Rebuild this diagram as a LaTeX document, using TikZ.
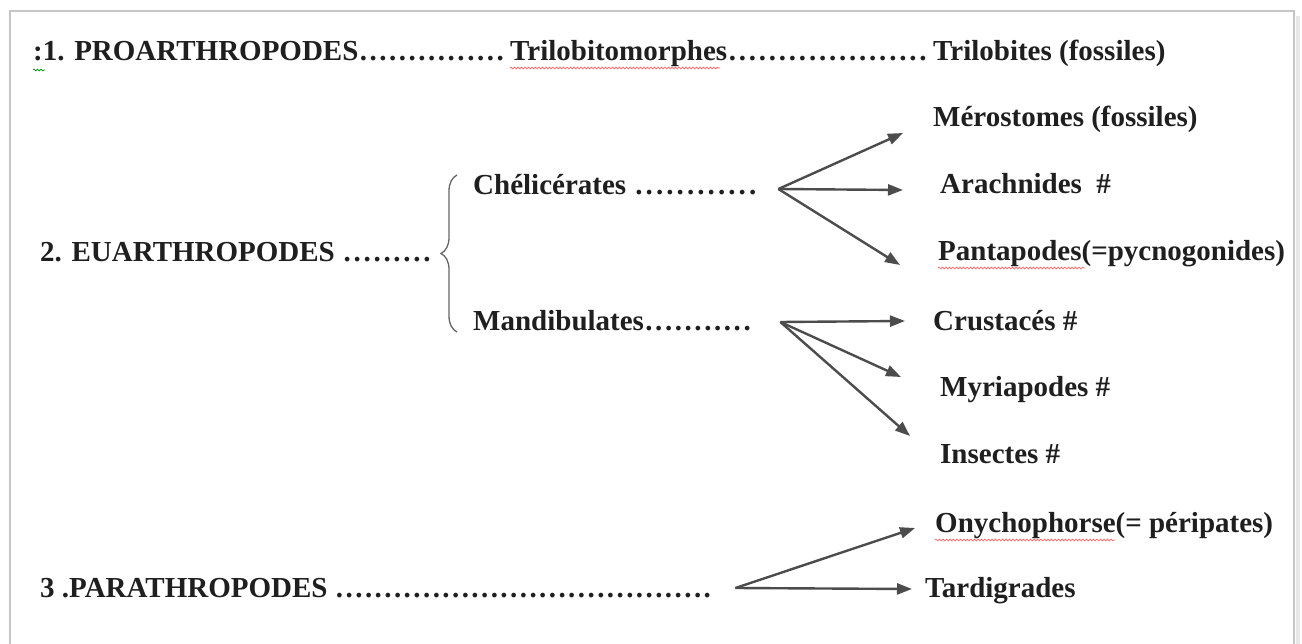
\documentclass[tikz,border=0pt]{standalone}
\usepackage{fontspec}
\setmainfont{Liberation Serif}
\usetikzlibrary{arrows.meta,decorations.pathreplacing,decorations.pathmorphing,calc}
\newcommand{\dotsbox}[2]{\hbox to #1pt{#2\xleaders\hbox to 9.6pt{\hss.\hss}\hfill}}
\begin{document}
\begin{tikzpicture}[x=1pt,y=-1pt,
  lbl/.style={anchor=base west, inner sep=0pt, font=\fontsize{29}{34}\selectfont\bfseries, text=black!88},
  arr/.style={-{Triangle[length=15pt,width=11pt]}, line width=2.4pt, draw=black!70},
  squig/.style={decorate, decoration={snake, amplitude=0.9pt, segment length=3.5pt}, line width=0.7pt, draw=red!60}]
\useasboundingbox (0,0) rectangle (1302,644);
\fill[white] (0,0) rectangle (1302,644);
% page frame
\draw[gray!18, line width=4pt] (1298,16) -- (1298,660);
\draw[gray!45, line width=2.5pt] (10,660) -- (10,11) -- (1294,11) -- (1294,660);
% texts
\node[lbl] (pro) at (33,61) {\dotsbox{472}{:1. PROARTHROPODES}};
\node[lbl] (trm) at (510,61) {\dotsbox{418}{Trilobitomorphes}};
\node[lbl] (trb) at (933,61) {Trilobites (fossiles)};
\node[lbl] (mer) at (933,127) {Mérostomes (fossiles)};
\node[lbl] (ara) at (940,194) {Arachnides\ \ \#};
\node[lbl] (pan) at (938,261) {Pantapodes(=pycnogonides)};
\node[lbl] (eua) at (40,262) {\dotsbox{392}{2. EUARTHROPODES }};
\node[lbl] (che) at (473,195) {\dotsbox{285}{Chélicérates }};
\node[lbl] (man) at (473,331) {\dotsbox{279}{Mandibulates}};
\node[lbl] (cru) at (933,331) {Crustacés \#};
\node[lbl] (myr) at (940,397) {Myriapodes \#};
\node[lbl] (ins) at (940,464) {Insectes \#};
\node[lbl] (ony) at (935,532) {Onychophorse(= péripates)};
\node[lbl] (par) at (40,597) {\dotsbox{672}{3 .PARATHROPODES }};
\node[lbl] (tar) at (925,597) {Tardigrades};
% spell-check underlines
\draw[squig] ([shift={(0,7)}]trm.base west) -- ++(210,0);
\draw[squig] ([shift={(0,7)}]pan.base west) -- ++(147,0);
\draw[squig] ([shift={(0,8)}]ony.base west) -- ++(180,0);
\draw[squig, draw=green!60!black] ([shift={(0,9)}]pro.base west) -- ++(12,0);
% brace
\coordinate (bb) at (457,332);
\coordinate (bt) at (457,175);
\draw[decorate, decoration={brace, amplitude=16pt}, draw=black!60, line width=1.3pt] (bb) -- (bt);
% fan origins
\coordinate (co) at ($(che.base east)+(20,-6)$);
\coordinate (mo) at ($(man.base east)+(28,-9)$);
\coordinate (po) at ($(par.base east)+(23,-9)$);
% arrows
\draw[arr] (co) -- ([shift={(-30,6)}]mer.base west);
\draw[arr] (co) -- ([shift={(-37,-4)}]ara.base west);
\draw[arr] (co) -- ([shift={(-38,4)}]pan.base west);
\draw[arr] (mo) -- ([shift={(-28,-10)}]cru.base west);
\draw[arr] (mo) -- ([shift={(-39,-20)}]myr.base west);
\draw[arr] (mo) -- ([shift={(-30,-28)}]ins.base west);
\draw[arr] (po) -- ([shift={(-20,-4)}]ony.base west);
\draw[arr] (po) -- ([shift={(-13,-8)}]tar.base west);
\end{tikzpicture}
\end{document}
